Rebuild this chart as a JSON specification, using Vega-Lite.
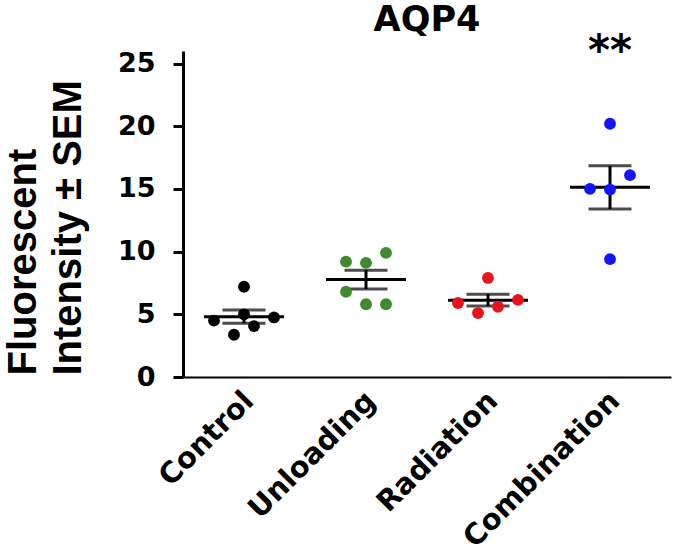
{
  "$schema": "https://vega.github.io/schema/vega-lite/v6.json",
  "autosize": {"type": "none"},
  "padding": {"left": 183, "top": 51, "right": 4, "bottom": 180},
  "width": 488,
  "height": 326,
  "background": "white",
  "config": {"view": {"stroke": null}, "font": "DejaVu Sans"},
  "title": {"text": "AQP4", "fontSize": 35, "fontWeight": "bold", "font": "DejaVu Sans", "color": "black", "offset": -35, "anchor": "middle", "frame": "group", "baseline": "alphabetic"},
  "data": {"values": [
    {"group": "Control", "value": 7.2, "slot": 0},
    {"group": "Control", "value": 4.5, "slot": -3},
    {"group": "Control", "value": 4.75, "slot": 3},
    {"group": "Control", "value": 5.0, "slot": 0},
    {"group": "Control", "value": 4.06, "slot": 1},
    {"group": "Control", "value": 3.37, "slot": -1},
    {"group": "Unloading", "value": 9.2, "slot": -2},
    {"group": "Unloading", "value": 9.1, "slot": 0},
    {"group": "Unloading", "value": 9.9, "slot": 2},
    {"group": "Unloading", "value": 6.8, "slot": -2},
    {"group": "Unloading", "value": 5.8, "slot": 0},
    {"group": "Unloading", "value": 5.8, "slot": 2},
    {"group": "Radiation", "value": 7.9, "slot": 0},
    {"group": "Radiation", "value": 5.9, "slot": -3},
    {"group": "Radiation", "value": 6.15, "slot": 3},
    {"group": "Radiation", "value": 5.1, "slot": -1},
    {"group": "Radiation", "value": 5.6, "slot": 1},
    {"group": "Combination", "value": 20.2, "slot": 0},
    {"group": "Combination", "value": 16.1, "slot": 2},
    {"group": "Combination", "value": 15.0, "slot": -2},
    {"group": "Combination", "value": 14.95, "slot": 0},
    {"group": "Combination", "value": 9.4, "slot": 0}
  ]},
  "encoding": {
    "x": {
      "field": "group", "type": "nominal",
      "sort": ["Control", "Unloading", "Radiation", "Combination"],
      "scale": {"type": "band", "paddingInner": 0, "paddingOuter": 0},
      "axis": {
        "title": null, "ticks": false, "domainColor": "black", "domainWidth": 2,
        "labelAngle": -45, "labelFontSize": 29, "labelFontWeight": "bold", "labelColor": "black",
        "labelFont": "DejaVu Sans", "labelPadding": 9, "labelOffset": -5, "labelLimit": 400
      }
    }
  },
  "layer": [
    {
      "mark": {"type": "errorbar", "extent": "stderr", "color": "black", "thickness": 3, "ticks": {"size": 43, "thickness": 3, "color": "black"}},
      "encoding": {
        "y": {
          "field": "value", "type": "quantitative",
          "scale": {"domain": [0, 25]},
          "axis": {
            "values": [0, 5, 10, 15, 20, 25], "grid": false,
            "domainColor": "black", "domainWidth": 3, "tickColor": "black", "tickWidth": 3, "tickSize": 10,
            "labelFontSize": 27, "labelFontWeight": "bold", "labelColor": "black", "labelFont": "DejaVu Sans", "labelPadding": 18,
            "title": ["Fluorescent", "Intensity ± SEM"], "titleFontSize": 40, "titleFontWeight": "bold", "titleColor": "black",
            "titleFont": "Liberation Sans", "titleAngle": -90, "titleAlign": "left", "titleBaseline": "top",
            "titleX": -180, "titleY": 324, "titleLineHeight": 45
          }
        }
      }
    },
    {
      "mark": {"type": "tick", "color": "black", "size": 80, "thickness": 3},
      "encoding": {"y": {"aggregate": "mean", "field": "value", "type": "quantitative"}}
    },
    {
      "mark": {"type": "point", "filled": true, "opacity": 1, "size": 140},
      "encoding": {
        "y": {"field": "value", "type": "quantitative"},
        "xOffset": {"field": "slot", "type": "quantitative", "scale": {"domain": [-3, 3], "range": [31, 91]}},
        "color": {
          "field": "group", "type": "nominal",
          "scale": {"domain": ["Control", "Unloading", "Radiation", "Combination"], "range": ["#000000", "#3f8a2c", "#e8141c", "#1414ff"]},
          "legend": null
        }
      }
    },
    {
      "data": {"values": [{"group": "Combination", "y": 24.85, "label": "**"}]},
      "mark": {"type": "text", "fontSize": 42, "fontWeight": "bold", "font": "DejaVu Sans", "color": "black", "baseline": "alphabetic"},
      "encoding": {
        "y": {"field": "y", "type": "quantitative"},
        "text": {"field": "label"}
      }
    }
  ]
}
